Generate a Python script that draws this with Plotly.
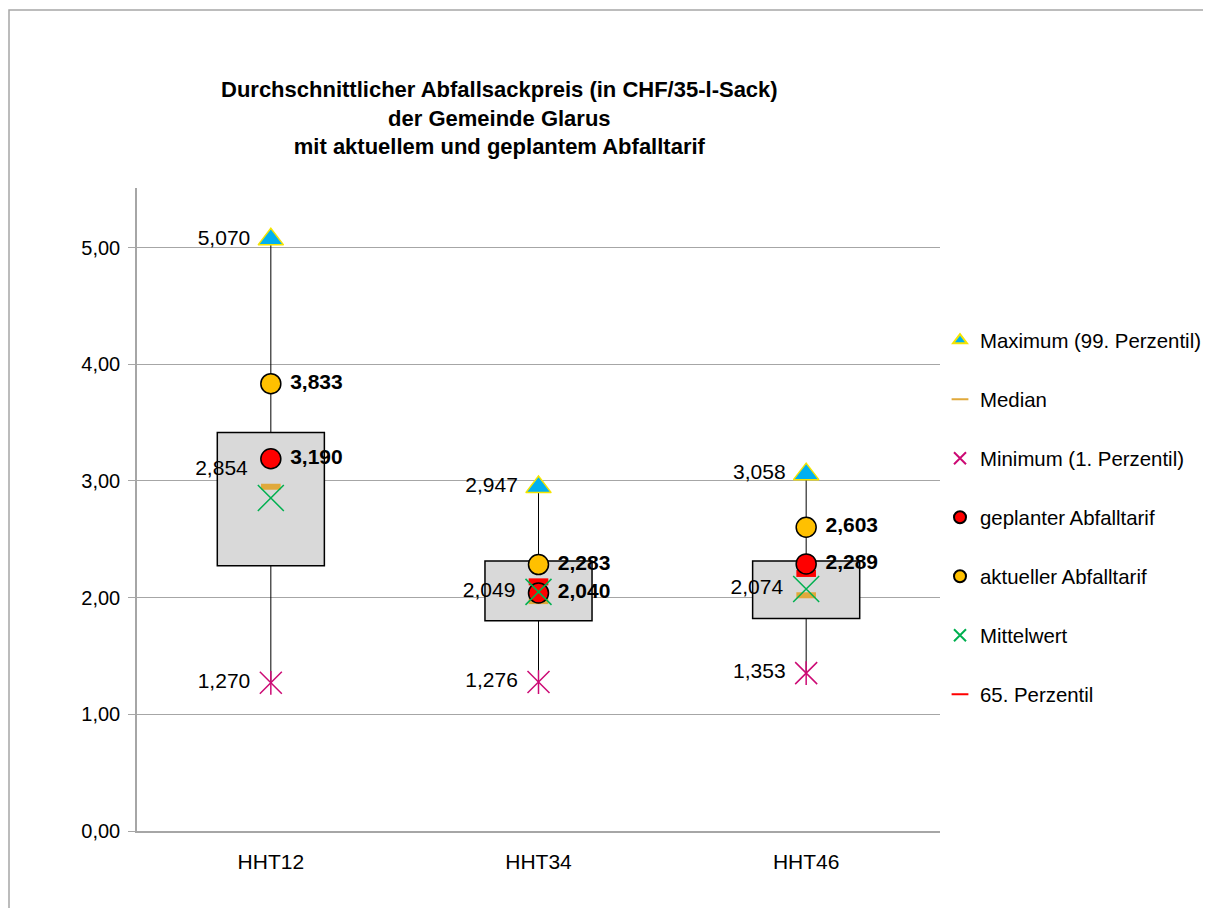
import plotly.graph_objects as go

categories = ["HHT12", "HHT34", "HHT46"]
maximum = [5.070, 2.947, 3.058]
median = [2.95, 1.97, 2.02]
minimum = [1.270, 1.276, 1.353]
planned = [3.190, 2.040, 2.289]
current = [3.833, 2.283, 2.603]
mean = [2.854, 2.049, 2.074]
p65 = [3.19, 2.135, 2.207]
q1 = [2.273, 1.802, 1.821]
q3 = [3.415, 2.314, 2.314]
y_ticks = [0, 1, 2, 3, 4, 5]

# label placement styles (not data)
mean_label_pos = ["top left", "middle left", "middle left"]

FONT = "Liberation Sans, Arial, sans-serif"
LBL = 21
xs = list(range(len(categories)))


def fmt(v):
    return f"{v:.3f}".replace(".", ",")


def left(v):
    return fmt(v) + " "


def right(v):
    return " " + fmt(v)


fig = go.Figure()

# whiskers (split so they don't cross the box)
wx, wy = [], []
for i in xs:
    wx += [i, i, None, i, i, None]
    wy += [minimum[i], q1[i], None, q3[i], maximum[i], None]
fig.add_trace(go.Scatter(x=wx, y=wy, mode="lines", line=dict(color="black", width=1),
                         showlegend=False, hoverinfo="skip"))

# box (interquartile range)
fig.add_trace(go.Bar(x=xs, y=[b - a for a, b in zip(q1, q3)], base=q1, width=0.4,
                     marker=dict(color="#d9d9d9", line=dict(color="black", width=1.5)),
                     showlegend=False, hoverinfo="skip"))

# Maximum
fig.add_trace(go.Scatter(x=xs, y=maximum, mode="markers+text", name="Maximum (99. Perzentil)",
                         legendgroup="max", legendrank=1,
                         marker=dict(symbol="triangle-up", size=22, color="#00b0f0",
                                     line=dict(color="#f5e400", width=1.5)),
                         text=[left(v) for v in maximum], textposition="middle left",
                         textfont=dict(family=FONT, size=LBL, color="black")))
# Median
fig.add_trace(go.Scatter(x=xs, y=median, mode="markers", name="Median",
                         legendgroup="med", legendrank=2,
                         marker=dict(symbol="line-ew-open", size=14, color="#e0a93b",
                                     line=dict(color="#e0a93b", width=6))))
# Minimum (star = x + vertical line)
fig.add_trace(go.Scatter(x=xs, y=minimum, mode="markers+text", name="Minimum (1. Perzentil)",
                         legendgroup="min", legendrank=3,
                         marker=dict(symbol="x-thin-open", size=22, color="#cc0a74",
                                     line=dict(color="#cc0a74", width=1.5)),
                         text=[left(v) for v in minimum], textposition="middle left",
                         textfont=dict(family=FONT, size=LBL, color="black")))
fig.add_trace(go.Scatter(x=xs, y=minimum, mode="markers", name="Minimum (1. Perzentil)",
                         legendgroup="min", showlegend=False, hoverinfo="skip",
                         marker=dict(symbol="line-ns-open", size=17, color="#cc0a74",
                                     line=dict(color="#cc0a74", width=1.5))))
# 65. Perzentil (drawn before planned so it hides behind the circle)
fig.add_trace(go.Scatter(x=xs, y=p65, mode="markers", name="65. Perzentil",
                         legendgroup="p65", legendrank=7,
                         marker=dict(symbol="line-ew-open", size=14, color="#ff0000",
                                     line=dict(color="#ff0000", width=7))))
# geplanter Abfalltarif
fig.add_trace(go.Scatter(x=xs, y=planned, mode="markers+text", name="geplanter Abfalltarif",
                         legendgroup="plan", legendrank=4,
                         marker=dict(symbol="circle", size=20, color="#ff0000",
                                     line=dict(color="black", width=1.5)),
                         text=[right(v) for v in planned], textposition="middle right",
                         textfont=dict(family=FONT, size=LBL, color="black", weight="bold")))
# aktueller Abfalltarif
fig.add_trace(go.Scatter(x=xs, y=current, mode="markers+text", name="aktueller Abfalltarif",
                         legendgroup="cur", legendrank=5,
                         marker=dict(symbol="circle", size=20, color="#ffc000",
                                     line=dict(color="black", width=1.5)),
                         text=[right(v) for v in current], textposition="middle right",
                         textfont=dict(family=FONT, size=LBL, color="black", weight="bold")))
# Mittelwert
fig.add_trace(go.Scatter(x=xs, y=mean, mode="markers+text", name="Mittelwert",
                         legendgroup="mean", legendrank=6,
                         marker=dict(symbol="x-thin-open", size=26, color="#00b050",
                                     line=dict(color="#00b050", width=1.5)),
                         text=[left(v) for v in mean], textposition=mean_label_pos,
                         textfont=dict(family=FONT, size=LBL, color="black")))

fig.update_layout(
    width=1211, height=908, autosize=False,
    margin=dict(l=129, r=279, t=180, b=85, autoexpand=False),
    paper_bgcolor="white", plot_bgcolor="white",
    separators=",.",
    font=dict(family=FONT, size=20, color="black"),
    barmode="overlay",
    legend=dict(x=1.0, y=0.794, xanchor="left", yanchor="top", tracegroupgap=29.5,
                itemsizing="constant", font=dict(family=FONT, size=20.4, color="black"),
                bgcolor="rgba(0,0,0,0)"),
    annotations=[dict(
        text="Durchschnittlicher Abfallsackpreis (in CHF/35-l-Sack)<br>der Gemeinde Glarus<br>mit aktuellem und geplantem Abfalltarif",
        xref="paper", yref="paper", x=0.452, y=1.109, xanchor="center", yanchor="middle",
        showarrow=False, font=dict(family=FONT, size=22, color="black", weight="bold"))],
    shapes=[dict(type="rect", xref="paper", yref="paper", x0=-0.1594, x1=1.4,
                 y0=-0.2, y1=1.2768, line=dict(color="#a6a6a6", width=1.5), layer="below")],
    showlegend=True,
)
fig.update_xaxes(range=[-0.5, 2.5], tickvals=xs, ticktext=categories, showline=True,
                 linecolor="#a6a6a6", linewidth=1.5, showgrid=False, zeroline=False,
                 ticks="", ticklabelstandoff=11, tickfont=dict(family=FONT, size=21))
fig.update_yaxes(range=[0, 5.51], tickvals=y_ticks, tickformat=".2f", showline=True,
                 linecolor="#a6a6a6", linewidth=1.5, showgrid=True, gridcolor="#a6a6a6",
                 gridwidth=1, zeroline=False, ticks="outside", ticklen=7,
                 tickcolor="#a6a6a6", ticklabelstandoff=4, tickfont=dict(family=FONT, size=20))

fig.write_html("out.html")
